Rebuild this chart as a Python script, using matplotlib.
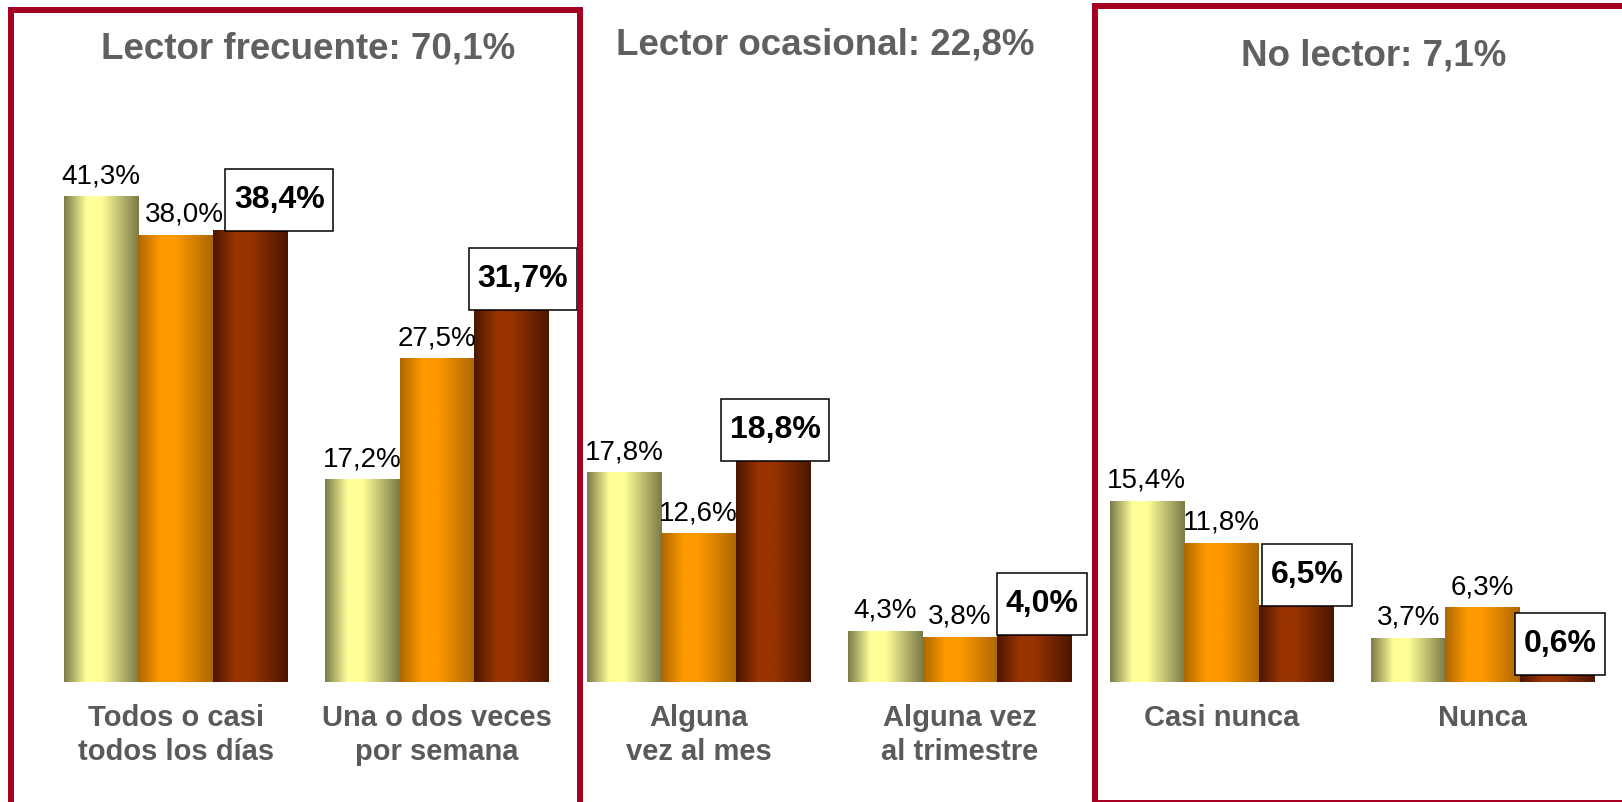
import numpy as np
import matplotlib
matplotlib.use("Agg")
import matplotlib.pyplot as plt
from matplotlib.colors import LinearSegmentedColormap
from matplotlib.patches import Rectangle
from matplotlib.path import Path

plt.rcParams['font.family'] = ['Liberation Sans', 'DejaVu Sans']

# Frecuencia de lectura, tres series por categoría
categorias = ['Todos o casi\ntodos los días', 'Una o dos veces\npor semana',
              'Alguna\nvez al mes', 'Alguna vez\nal trimestre',
              'Casi nunca', 'Nunca']
serie_a = [41.3, 17.2, 17.8, 4.3, 15.4, 3.7]
serie_b = [38.0, 27.5, 12.6, 3.8, 11.8, 6.3]
serie_c = [38.4, 31.7, 18.8, 4.0, 6.5, 0.6]
grupos = ['Lector frecuente: 70,1%', 'Lector ocasional: 22,8%', 'No lector: 7,1%']

W, H = 1622, 802
fig = plt.figure(figsize=(W / 100, H / 100), dpi=100)
fig.patch.set_facecolor('white')
ax = fig.add_axes([45 / W, 120 / H, 1568.4 / W, 587.5 / H])

# degradados horizontales: oscuro en los bordes, claro cerca del centro
def degradado(borde, centro):
    return LinearSegmentedColormap.from_list(
        'g', [(0.0, borde), (0.3, centro), (0.5, centro), (1.0, borde)])

mapas = [degradado('#7a7a48', '#ffff99'),
         degradado('#ad6700', '#ff9900'),
         degradado('#4a1700', '#993300')]

# recuadro con más margen vertical que horizontal
def caja(x0, y0, ancho, alto, mutation_size):
    px, py = 0.27 * mutation_size, 0.50 * mutation_size
    x0, y0 = x0 - px, y0 - py
    x1, y1 = x0 + ancho + 2 * px, y0 + alto + 2 * py
    return Path([(x0, y0), (x1, y0), (x1, y1), (x0, y1), (x0, y0)], closed=True)

x = np.arange(len(categorias))
ancho = 0.285
grad = np.linspace(0, 1, 256).reshape(1, -1)
series = [serie_a, serie_b, serie_c]

# pequeños ajustes horizontales (pt) de las etiquetas normales
ajuste = [[0] * 6, [6, 0, 0, 0, 0, 0]]

for k, (vals, cmap) in enumerate(zip(series, mapas)):
    barras = ax.bar(x + (k - 1) * ancho, vals, width=ancho,
                    color='none', edgecolor='none')
    for i, (b, v) in enumerate(zip(barras, vals)):
        x0 = b.get_x()
        ax.imshow(grad, cmap=cmap, aspect='auto', interpolation='bilinear',
                  extent=(x0, x0 + b.get_width(), 0, b.get_height()), zorder=2)
        txt = f'{v:.1f}%'.replace('.', ',')
        if k < 2:
            ax.annotate(txt, (b.get_x() + b.get_width() / 2, v),
                        xytext=(ajuste[k][i], 9.8), textcoords='offset points',
                        ha='center', va='baseline', fontsize=20, color='black')

# etiquetas destacadas de la tercera serie
desplazamiento = [21, 8, 1.5, 5.5, 8, 2]
for xi, v, dx in zip(x + ancho, serie_c, desplazamiento):
    ax.annotate(f'{v:.1f}%'.replace('.', ','), (xi, v),
                xytext=(dx, 11.5), textcoords='offset points',
                ha='center', va='bottom', fontsize=23, fontweight='bold',
                color='black', zorder=5,
                bbox=dict(boxstyle=caja, fc='white', ec='black', lw=1.1))

for xi, lbl in zip(x, categorias):
    ax.annotate(lbl, (xi, 0), xytext=(0, -16), textcoords='offset points',
                ha='center', va='top', fontsize=21, fontweight='bold',
                color='#5a5a5a', linespacing=1.25, multialignment='center')

ax.set_xlim(-0.5, 5.5)
ax.set_ylim(0, 50)
ax.axis('off')

# títulos de cada bloque
for (px, py), t in zip([(308, 48.5), (825, 45.5), (1374, 56)], grupos):
    fig.text(px / W, 1 - py / H, t, ha='center', va='center',
             fontsize=26.5, fontweight='bold', color='#606060')

# marcos rojos
rojo = '#a50021'
for x0, y0, x1, y1 in [(11, 10, 580, 830), (1095, 6, 1660, 803)]:
    fig.add_artist(Rectangle((x0 / W, 1 - y1 / H), (x1 - x0) / W, (y1 - y0) / H,
                             transform=fig.transFigure, fill=False,
                             ec=rojo, lw=4.3, joinstyle='miter'))

fig.savefig('out.png', dpi=100)
